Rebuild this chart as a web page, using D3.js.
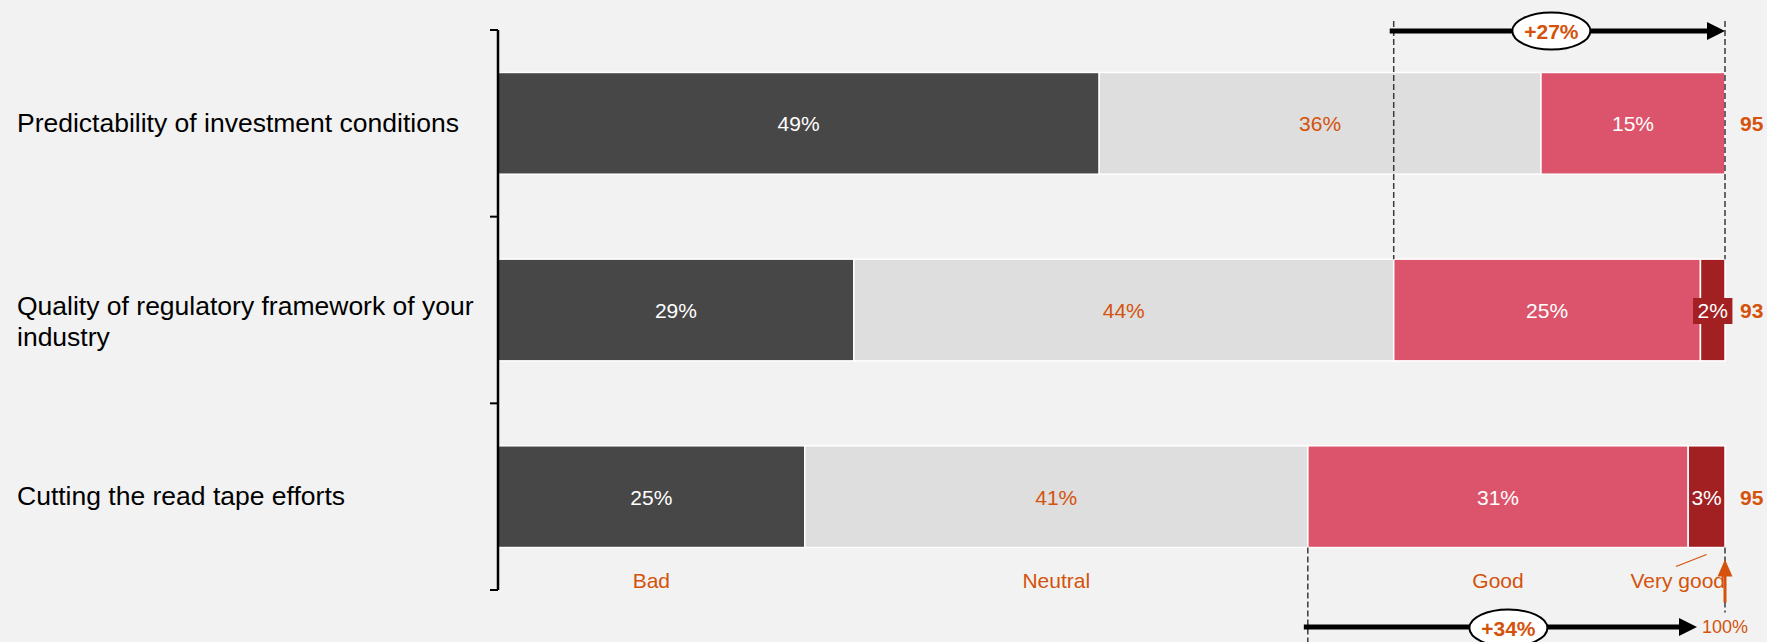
<!DOCTYPE html>
<html>
<head>
<meta charset="utf-8">
<script src="https://cdn.jsdelivr.net/npm/d3@7"></script>
<style>
  html, body { margin: 0; padding: 0; background: #f2f2f2; }
  svg { display: block; font-family: "Liberation Sans", Arial, Helvetica, sans-serif; }
</style>
</head>
<body>
<svg id="chart" width="1767" height="642"></svg>
<script>
// Survey ratings per topic (share of answers, %)
const categories = [
  "Predictability of investment conditions",
  "Quality of regulatory framework of your industry",
  "Cutting the read tape efforts"
];
const ratingLevels = ["Bad", "Neutral", "Good", "Very good"];
const badShare      = [49, 29, 25];
const neutralShare  = [36, 44, 41];
const goodShare     = [15, 25, 31];
const veryGoodShare = [0, 2, 3];
const respondents   = [95, 93, 95];
const fullScaleLabel = "100%";

const colors = {
  "Bad": "#474747",
  "Neutral": "#dedede",
  "Good": "#dc546b",
  "Very good": "#a21f22"
};
const labelColors = {
  "Bad": "#ffffff",
  "Neutral": "#d4520c",
  "Good": "#ffffff",
  "Very good": "#ffffff"
};
const orange = "#d4520c";

const svg = d3.select("#chart");
const W = 1767, H = 642;

svg.append("rect").attr("width", W).attr("height", H).attr("fill", "#f2f2f2");

const x = d3.scaleLinear().domain([0, 100]).range([498, 1725]);
const y = d3.scaleBand().domain(categories).range([30, 590])
  .paddingInner(0.455).paddingOuter(0.2275);

const rows = categories.map((c, i) => ({
  category: c,
  "Bad": badShare[i],
  "Neutral": neutralShare[i],
  "Good": goodShare[i],
  "Very good": veryGoodShare[i]
}));
const series = d3.stack().keys(ratingLevels)(rows);

// Stacked bars
const gBars = svg.append("g");
series.forEach(s => {
  const key = s.key;
  s.forEach(seg => {
    const v = seg[1] - seg[0];
    if (v <= 0) return;
    const cat = seg.data.category;
    const x0 = x(seg[0]), x1 = x(seg[1]);
    const yc = y(cat) + y.bandwidth() / 2;
    gBars.append("rect")
      .attr("x", x0).attr("y", y(cat))
      .attr("width", x1 - x0).attr("height", y.bandwidth())
      .attr("fill", colors[key])
      .attr("stroke", "#ffffff").attr("stroke-width", 1.5);
    const t = gBars.append("text")
      .attr("x", (x0 + x1) / 2).attr("y", yc + 8)
      .attr("text-anchor", "middle")
      .attr("font-size", "21px")
      .attr("fill", labelColors[key])
      .text(v + "%");
    const tw = t.node().getComputedTextLength();
    if (tw + 4 > x1 - x0) {
      // label wider than its segment: give it a box in the segment colour
      gBars.insert("rect", () => t.node())
        .attr("x", (x0 + x1) / 2 - tw / 2 - 4.5)
        .attr("y", yc - 12)
        .attr("width", tw + 9).attr("height", 26)
        .attr("fill", colors[key]);
    }
  });
});

// Respondent counts at the right end of each bar
svg.append("g").selectAll("text").data(categories).join("text")
  .attr("x", x(100) + 15)
  .attr("y", d => y(d) + y.bandwidth() / 2 + 8)
  .attr("font-size", "21px").attr("font-weight", "bold")
  .attr("fill", orange)
  .text((d, i) => respondents[i]);

// Left bracket axis with ticks at band boundaries
const axisX = x(0);
const gAxis = svg.append("g");
gAxis.append("line")
  .attr("x1", axisX).attr("x2", axisX)
  .attr("y1", y.range()[0]).attr("y2", y.range()[1])
  .attr("stroke", "#000").attr("stroke-width", 2.5);
d3.range(categories.length + 1).forEach(i => {
  const ty = y.range()[0] + i * y.step();
  gAxis.append("line")
    .attr("x1", axisX - 8).attr("x2", axisX)
    .attr("y1", ty).attr("y2", ty)
    .attr("stroke", "#000").attr("stroke-width", 2);
});

// Category labels (wrapped)
const gCat = svg.append("g");
categories.forEach(c => {
  const words = c.split(" ");
  const lines = [];
  let cur = "";
  const probe = gCat.append("text").attr("font-size", "26.5px");
  words.forEach(w => {
    const test = cur ? cur + " " + w : w;
    probe.text(test);
    if (probe.node().getComputedTextLength() > 475 && cur) {
      lines.push(cur);
      cur = w;
    } else {
      cur = test;
    }
  });
  lines.push(cur);
  probe.remove();
  const yc = y(c) + y.bandwidth() / 2;
  const t = gCat.append("text")
    .attr("x", 17).attr("font-size", "26.5px").attr("fill", "#000");
  lines.forEach((ln, j) => {
    t.append("tspan").attr("x", 17)
      .attr("y", yc + 8.5 - (lines.length - 1) * 4 + j * 31)
      .text(ln);
  });
});

// Rating level labels under the last bar
const lastSeries = series.map(s => s[s.length - 1]);
const lastCat = categories[categories.length - 1];
const lastBottom = y(lastCat) + y.bandwidth();
const gLvl = svg.append("g");
lastSeries.forEach((seg, k) => {
  const key = ratingLevels[k];
  const cx = (x(seg[0]) + x(seg[1])) / 2;
  if (key === "Very good") {
    gLvl.append("text")
      .attr("x", x(100)).attr("y", lastBottom + 40)
      .attr("text-anchor", "end")
      .attr("font-size", "21px").attr("fill", orange)
      .text(key);
    gLvl.append("line")
      .attr("x1", x(100) - 49).attr("y1", lastBottom + 19)
      .attr("x2", cx).attr("y2", lastBottom + 7)
      .attr("stroke", orange).attr("stroke-width", 1.2);
  } else {
    gLvl.append("text")
      .attr("x", cx).attr("y", lastBottom + 40)
      .attr("text-anchor", "middle")
      .attr("font-size", "21px").attr("fill", orange)
      .text(key);
  }
});

// Positive-share arrows (Good + Very good)
const positive = categories.map((c, i) => goodShare[i] + veryGoodShare[i]);
const gAnn = svg.append("g");

function dashed(xv, y1, y2) {
  gAnn.append("line")
    .attr("x1", xv).attr("x2", xv).attr("y1", y1).attr("y2", y2)
    .attr("stroke", "#3a3a3a").attr("stroke-width", 1.5)
    .attr("stroke-dasharray", "6,3");
}
function arrow(xs, xe, yv) {
  gAnn.append("line")
    .attr("x1", xs).attr("x2", xe - 15).attr("y1", yv).attr("y2", yv)
    .attr("stroke", "#000").attr("stroke-width", 5);
  gAnn.append("path")
    .attr("d", `M${xe},${yv} L${xe - 18},${yv - 9} L${xe - 18},${yv + 9} Z`)
    .attr("fill", "#000");
}
function badge(cx, cy, label) {
  gAnn.append("ellipse")
    .attr("cx", cx).attr("cy", cy).attr("rx", 39).attr("ry", 18.5)
    .attr("fill", "#fff").attr("stroke", "#000").attr("stroke-width", 2);
  gAnn.append("text")
    .attr("x", cx).attr("y", cy + 7.5)
    .attr("text-anchor", "middle")
    .attr("font-size", "21px").attr("font-weight", "bold")
    .attr("fill", orange)
    .text("+" + label + "%");
}

// Top: second topic
const topIdx = 1;
const topStart = x(100 - positive[topIdx]);
dashed(topStart, 21, y(categories[topIdx]));
dashed(x(100), 21, y(categories[topIdx]));
arrow(topStart - 4, x(100), 31);
badge((topStart + x(100)) / 2 - 8, 31, positive[topIdx]);

// Bottom: third topic
const botIdx = 2;
const botStart = x(100 - positive[botIdx]);
dashed(botStart, lastBottom, H);
dashed(x(100), lastBottom, lastBottom + 65);
arrow(botStart - 4, x(100) - 28, 627);
badge((botStart + x(100) - 28) / 2 + 6, 628, positive[botIdx]);

// Full-scale marker
gAnn.append("line")
  .attr("x1", x(100)).attr("x2", x(100))
  .attr("y1", lastBottom + 55).attr("y2", lastBottom + 26)
  .attr("stroke", orange).attr("stroke-width", 3);
gAnn.append("path")
  .attr("d", `M${x(100)},${lastBottom + 12} L${x(100) - 7.5},${lastBottom + 29} L${x(100) + 7.5},${lastBottom + 29} Z`)
  .attr("fill", orange);
gAnn.append("text")
  .attr("x", x(100)).attr("y", 633)
  .attr("text-anchor", "middle")
  .attr("font-size", "18px").attr("fill", orange)
  .text(fullScaleLabel);
</script>
</body>
</html>
